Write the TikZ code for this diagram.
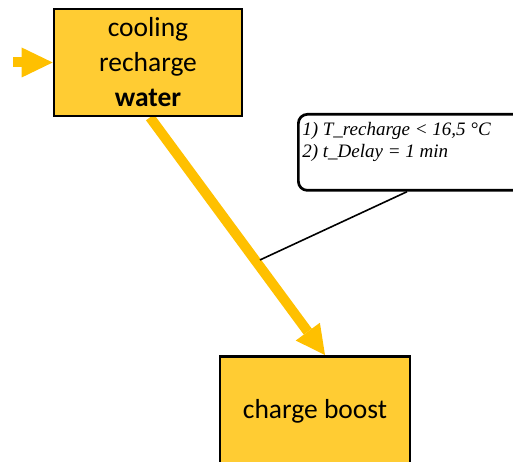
\documentclass[tikz,border=0pt]{standalone}
\usepackage{fontspec}
\setmainfont{Carlito}
\newfontfamily\notefont{Liberation Serif}
\usetikzlibrary{arrows.meta,calc,backgrounds}
\definecolor{boxfill}{HTML}{FFCC33}
\definecolor{arrowgold}{HTML}{FFC000}
\begin{document}
\begin{tikzpicture}[x=1pt,y=-1pt,
  stepbox/.style={draw=black, line width=2.7pt, fill=boxfill, align=center,
    inner sep=0pt, font=\fontsize{27.5}{35}\selectfont},
  flow/.style={draw=arrowgold, line width=10pt,
    -{Triangle[length=29pt,width=30pt,line width=0pt]}, arrowgold},
  note/.style={draw=black, line width=2.7pt, rounded corners=9pt, fill=white,
    inner xsep=4pt, inner ysep=0pt,
    font=\notefont\itshape\fontsize{19}{22}\selectfont},
  notelink/.style={draw=black, line width=1.6pt}]
\useasboundingbox (0,0) rectangle (513,462);
\node[stepbox, minimum width=188pt, minimum height=107pt] (cool) at (148,62.5)
  {cooling\\recharge\\\textbf{water}};
\node[stepbox, minimum width=190pt, minimum height=110pt, anchor=north] (boost) at (315,355)
  {charge boost};
\node[note, anchor=north west] (cond) at (297,113)
  {\parbox[c][76pt][t]{260pt}{\vspace*{8pt}1) T\_recharge < 16,5 °C\\2) t\_Delay = 1 min}};
\coordinate (feed) at (13,62.5);
\begin{scope}[on background layer]
  \draw[flow] ($(cool.south)+(2,0)$) -- ($(boost.north)+(10,0)$)
    coordinate[pos=0.6] (tap);
  \draw[notelink] ($(cond.south west)+(110,0)$) -- ($(tap)+(5,0)$);
  \draw[flow, -{Triangle[length=31pt,width=30pt,line width=0pt]}] (feed) -- (cool.west);
\end{scope}
\end{tikzpicture}
\end{document}
